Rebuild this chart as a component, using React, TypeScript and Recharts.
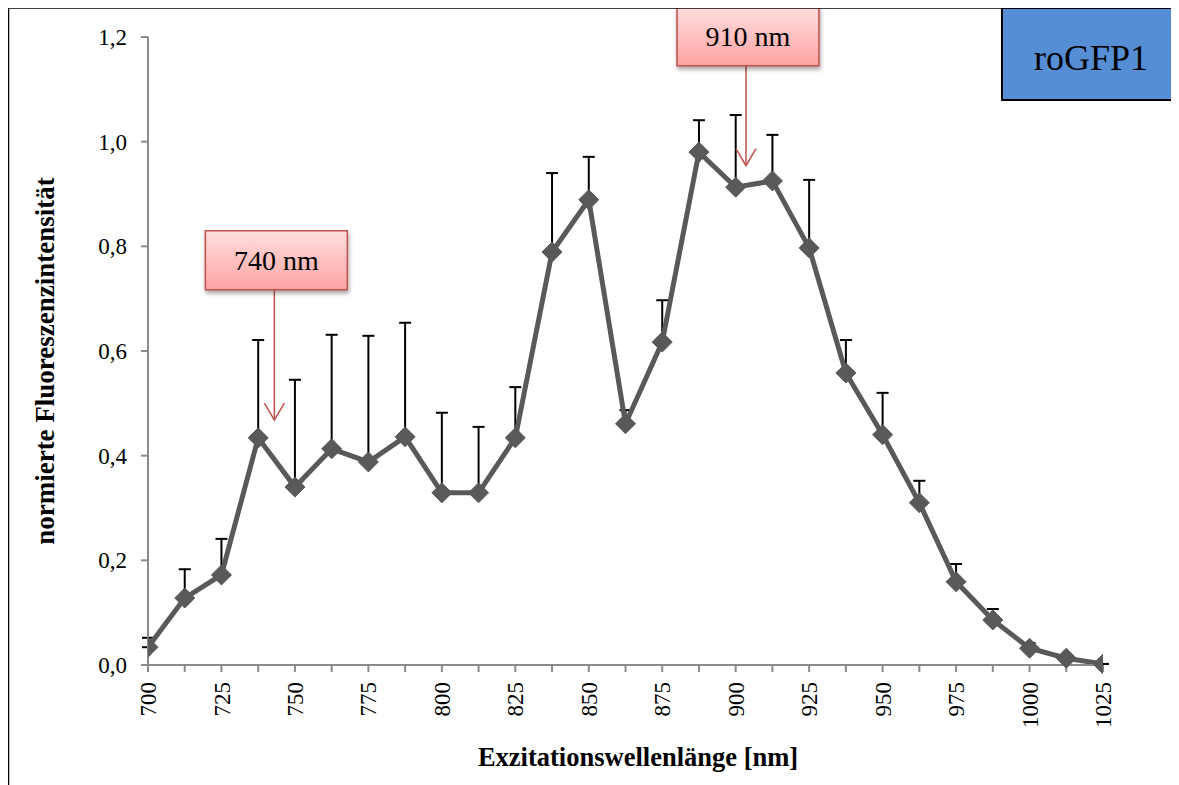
import React from 'react';
import { LineChart, Line, XAxis, YAxis, ErrorBar, ReferenceLine } from 'recharts';

const wavelengths = [700, 712.5, 725, 737.5, 750, 762.5, 775, 787.5, 800, 812.5, 825, 837.5, 850, 862.5, 875, 887.5, 900, 912.5, 925, 937.5, 950, 962.5, 975, 987.5, 1000, 1012.5, 1025];
const intensity = [0.034, 0.128, 0.172, 0.434, 0.340, 0.413, 0.388, 0.436, 0.329, 0.329, 0.434, 0.789, 0.889, 0.461, 0.617, 0.980, 0.913, 0.925, 0.797, 0.558, 0.440, 0.310, 0.159, 0.086, 0.032, 0.013, 0.002];
const errorUp = [0.018, 0.055, 0.069, 0.187, 0.205, 0.218, 0.241, 0.218, 0.153, 0.126, 0.097, 0.151, 0.082, 0.026, 0.080, 0.061, 0.138, 0.088, 0.130, 0.063, 0.080, 0.042, 0.034, 0.021, 0.010, 0, 0];
const yTicks = [0, 0.2, 0.4, 0.6, 0.8, 1.0, 1.2];

const callouts = [
  { label: '740 nm', x: 743, tip: 0.468, boxBottom: 0.717 },
  { label: '910 nm', x: 903.5, tip: 0.954, boxBottom: 1.145 },
];

const data = wavelengths.map((w, i) => ({ x: w, y: intensity[i], err: [0, errorUp[i]] }));

const FONT = '"Liberation Serif", "Times New Roman", serif';
const LINE = '#595959';
const AXIS = '#8a8a8a';

const Diamond = (props: any) => {
  const { cx, cy, index } = props;
  if (cx == null || cy == null) return <g key={`d-${index}`} />;
  const r = 10;
  return (
    <polygon
      key={`d-${index}`}
      points={`${cx},${cy - r} ${cx + r},${cy} ${cx},${cy + r} ${cx - r},${cy}`}
      fill={LINE}
      stroke={LINE}
      strokeWidth={1}
    />
  );
};

const XTick = (props: any) => {
  const { x, y, payload } = props;
  const v = payload.value;
  if (v % 25 !== 0) return <g />;
  const yy = y + 8;
  return (
    <text
      x={x}
      y={yy}
      dy="0.35em"
      textAnchor="end"
      transform={`rotate(-90, ${x}, ${yy})`}
      style={{ fontFamily: FONT, fontSize: 23 }}
      fill="#000"
    >
      {v}
    </text>
  );
};

const YTick = (props: any) => {
  const { x, y, payload } = props;
  return (
    <text x={x} y={y} dy="0.35em" textAnchor="end" style={{ fontFamily: FONT, fontSize: 23 }} fill="#000">
      {Number(payload.value).toFixed(1).replace('.', ',')}
    </text>
  );
};

const makeCallout = (label: string, idx: number) => (props: any) => {
  const { x1, y1, y2 } = props;
  if (x1 == null) return <g />;
  const w = 142;
  const h = 59;
  const bx = x1 - w / 2 + 2;
  const by = y2 - h;
  const gid = `cg${idx}`;
  const fid = `cf${idx}`;
  return (
    <g>
      <defs>
        <linearGradient id={gid} x1="0" y1="0" x2="0" y2="1">
          <stop offset="0%" stopColor="#FFDEDE" />
          <stop offset="100%" stopColor="#FFA3A3" />
        </linearGradient>
        <filter id={fid} x="-20%" y="-20%" width="140%" height="150%">
          <feDropShadow dx="1" dy="3" stdDeviation="2" floodColor="#000" floodOpacity="0.35" />
        </filter>
      </defs>
      <line x1={x1} y1={y2} x2={x1} y2={y1} stroke="#C0504D" strokeWidth={1.5} />
      <polyline
        points={`${x1 - 10},${y1 - 17} ${x1},${y1} ${x1 + 10},${y1 - 17}`}
        fill="none"
        stroke="#C0504D"
        strokeWidth={1.5}
      />
      <rect x={bx} y={by} width={w} height={h} fill={`url(#${gid})`} stroke="#C0504D" strokeWidth={1.5} filter={`url(#${fid})`} />
      <text x={bx + w / 2} y={by + h / 2} dy="0.35em" textAnchor="middle" style={{ fontFamily: FONT, fontSize: 28 }} fill="#000">
        {label}
      </text>
    </g>
  );
};

export default function App() {
  const W = 1171;
  const H = 777;
  return (
    <div style={{ position: 'relative', width: W, height: H, background: '#fff' }}>
      <div style={{ position: 'absolute', left: 0, top: 0 }}>
        <LineChart width={W} height={H} data={data} margin={{ top: 29, right: 76, bottom: 0, left: 0 }}>
          <XAxis
            dataKey="x"
            type="number"
            domain={[700, 1025]}
            ticks={wavelengths}
            interval={0}
            tick={<XTick />}
            tickSize={7}
            tickMargin={2}
            height={120}
            stroke={AXIS}
            strokeWidth={2}
            tickLine={{ stroke: AXIS, strokeWidth: 2 }}
            allowDataOverflow
          />
          <YAxis
            type="number"
            domain={[0, 1.2]}
            ticks={yTicks}
            interval={0}
            width={140}
            tickSize={7}
            tickMargin={14}
            stroke={AXIS}
            strokeWidth={2}
            tickLine={{ stroke: AXIS, strokeWidth: 2 }}
            tick={<YTick />}
          />
          <Line dataKey="y" stroke="none" dot={false} activeDot={false} isAnimationActive={false} legendType="none">
            <ErrorBar dataKey="err" direction="y" stroke="#000" strokeWidth={2} width={6} isAnimationActive={false} />
          </Line>
          <Line
            dataKey="y"
            stroke={LINE}
            strokeWidth={5}
            dot={Diamond}
            activeDot={false}
            isAnimationActive={false}
            strokeLinejoin="miter"
          />
          {callouts.map((c, i) => (
            <ReferenceLine
              key={c.label}
              segment={[{ x: c.x, y: c.tip }, { x: c.x, y: c.boxBottom }]}
              ifOverflow="visible"
              shape={makeCallout(c.label, i)}
            />
          ))}
        </LineChart>
      </div>
      <svg width={1179} height={785} style={{ position: 'absolute', left: -8, top: -8, pointerEvents: 'none' }}>
        <line x1={0} y1={7.5} x2={1179} y2={7.5} stroke="#000" strokeWidth={2.5} />
        <line x1={8} y1={0} x2={8} y2={785} stroke="#000" strokeWidth={2.5} />
        <rect x={1002} y={8} width={200} height={92} fill="#558ED5" stroke="#000" strokeWidth={2} />
        <text x={1091} y={57} dy="0.35em" textAnchor="middle" style={{ fontFamily: FONT, fontSize: 36 }} fill="#000">
          roGFP1
        </text>
        <text x={638} y={757} dy="0.35em" textAnchor="middle" style={{ fontFamily: FONT, fontSize: 26.5, fontWeight: 'bold' }} fill="#000">
          Exzitationswellenlänge [nm]
        </text>
        <text
          x={45}
          y={361}
          dy="0.35em"
          textAnchor="middle"
          transform="rotate(-90, 45, 361)"
          style={{ fontFamily: FONT, fontSize: 27, fontWeight: 'bold' }}
          fill="#000"
        >
          normierte Fluoreszenzintensität
        </text>
      </svg>
    </div>
  );
}
